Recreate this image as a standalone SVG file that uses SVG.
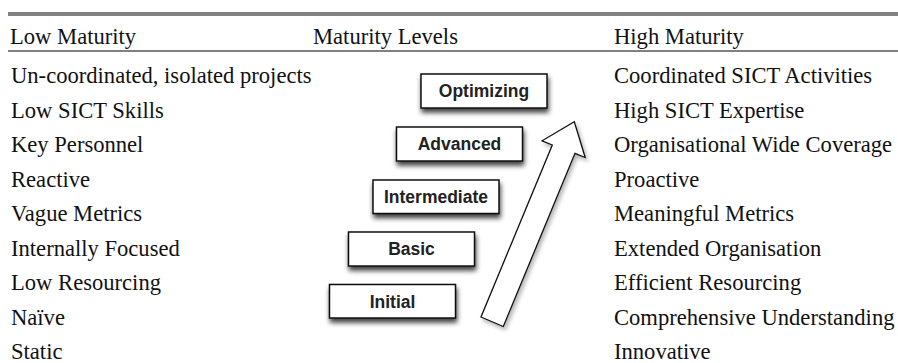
<svg xmlns="http://www.w3.org/2000/svg" width="898" height="363" viewBox="0 0 898 363">
<style>
.t{font-family:"Liberation Serif","Times New Roman",serif;font-size:22.6px;fill:#111}
.bx{fill:#fff;stroke:#111;stroke-width:1.5}
.bt{font-family:"Liberation Sans",Arial,sans-serif;font-weight:bold;font-size:17.5px;fill:#222;text-anchor:middle}
.rule{fill:#808080}
</style>
<defs>
<filter id="sh" x="-20%" y="-30%" width="140%" height="180%">
<feGaussianBlur in="SourceAlpha" stdDeviation="2.5"/>
<feOffset dx="1" dy="4" result="b"/>
<feComponentTransfer><feFuncA type="linear" slope="0.75"/></feComponentTransfer>
<feMerge><feMergeNode/><feMergeNode in="SourceGraphic"/></feMerge>
</filter>
<filter id="ash" x="-20%" y="-20%" width="140%" height="140%">
<feGaussianBlur in="SourceAlpha" stdDeviation="2"/>
<feOffset dx="2" dy="3" result="b"/>
<feComponentTransfer><feFuncA type="linear" slope="0.3"/></feComponentTransfer>
<feMerge><feMergeNode/><feMergeNode in="SourceGraphic"/></feMerge>
</filter>
</defs>
<rect width="898" height="363" fill="#fff"/>
<g id="rules">
<rect class="rule" x="8" y="12" width="890" height="4"/>
<rect class="rule" x="8" y="50" width="890" height="2"/>
</g>
<g id="header">
<text class="t" x="10" y="44">Low Maturity</text>
<text class="t" x="313" y="44">Maturity Levels</text>
<text class="t" x="614" y="44">High Maturity</text>
</g>
<g id="low">
<text class="t" x="11" y="83">Un-coordinated, isolated projects</text>
<text class="t" x="11" y="117.5">Low SICT Skills</text>
<text class="t" x="11" y="152">Key Personnel</text>
<text class="t" x="11" y="186.5">Reactive</text>
<text class="t" x="11" y="221">Vague Metrics</text>
<text class="t" x="11" y="255.5">Internally Focused</text>
<text class="t" x="11" y="290">Low Resourcing</text>
<text class="t" x="11" y="324.5">Naïve</text>
<text class="t" x="11" y="359">Static</text>
</g>
<g id="high">
<text class="t" x="614" y="83">Coordinated SICT Activities</text>
<text class="t" x="614" y="117.5">High SICT Expertise</text>
<text class="t" x="614" y="152">Organisational Wide Coverage</text>
<text class="t" x="614" y="186.5">Proactive</text>
<text class="t" x="614" y="221">Meaningful Metrics</text>
<text class="t" x="614" y="255.5">Extended Organisation</text>
<text class="t" x="614" y="290">Efficient Resourcing</text>
<text class="t" x="614" y="324.5">Comprehensive Understanding</text>
<text class="t" x="614" y="359">Innovative</text>
</g>
<g id="connectors">
<polygon filter="url(#ash)" fill="#fff" stroke="#111" stroke-width="1.3" stroke-linejoin="miter" points="481,317 503.3,326.5 575,153.3 585.2,157.5 574.3,121.7 542.1,140.8 552.3,145"/>
</g>
<g id="optimizing">
<rect class="bx" filter="url(#sh)" x="421" y="74" width="126" height="34"/>
<text class="bt" x="484" y="97.3">Optimizing</text>
</g>
<g id="advanced">
<rect class="bx" filter="url(#sh)" x="396.5" y="127" width="126" height="34"/>
<text class="bt" x="459.5" y="150.3">Advanced</text>
</g>
<g id="intermediate">
<rect class="bx" filter="url(#sh)" x="373" y="180" width="126" height="33.5"/>
<text class="bt" x="436" y="203">Intermediate</text>
</g>
<g id="basic">
<rect class="bx" filter="url(#sh)" x="348.5" y="232" width="126" height="34"/>
<text class="bt" x="411.5" y="255.3">Basic</text>
</g>
<g id="initial">
<rect class="bx" filter="url(#sh)" x="329.5" y="284.5" width="126" height="33.5"/>
<text class="bt" x="392.5" y="307.5">Initial</text>
</g>
</svg>
